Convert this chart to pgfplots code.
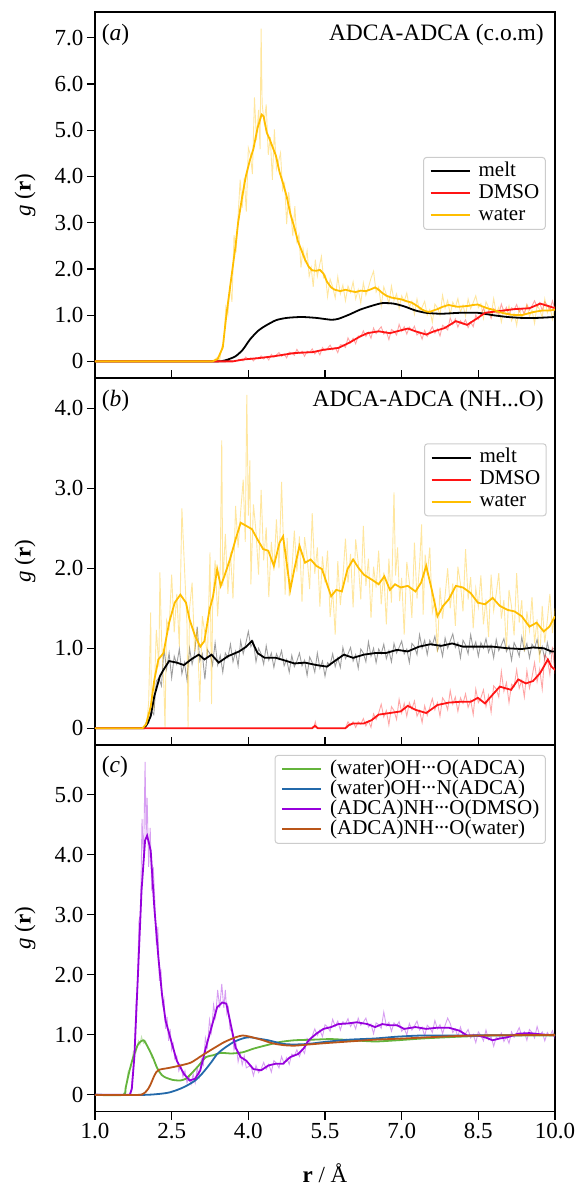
\documentclass[border=0pt]{standalone}
\usepackage{fontspec}
\setmainfont{Liberation Serif}
\usepackage{pgfplots}
\pgfplotsset{compat=1.18}

\definecolor{cwater}{RGB}{255,190,0}
\definecolor{cdmso}{RGB}{255,20,20}
\definecolor{cgreen}{RGB}{100,180,60}
\definecolor{cblue}{RGB}{35,105,170}
\definecolor{cpurple}{RGB}{150,0,220}
\definecolor{cbrown}{RGB}{185,85,25}

\newcommand\tickfont{\fontsize{23}{27}\selectfont}
\newcommand\legfont{\fontsize{21}{22}\selectfont}
% tight hydrogen-bond dots
\newcommand\hb{\kern-0.03em·\kern-0.1em·\kern-0.1em·\kern-0.03em}

\pgfplotsset{
  rdfpanel/.style={
    width=460pt, scale only axis,
    xmin=1, xmax=10,
    xtick={1,2.5,4,5.5,7,8.5,10},
    xtick pos=left, ytick pos=left,
    ytick align=outside,
    major tick length=8pt,
    every tick/.style={black, line width=1.2pt},
    axis line style={line width=1.2pt},
    tick label style={font=\tickfont},
    /pgf/number format/assume math mode=true,
    every axis y label/.style={at={(axis description cs:-0.152,0.5)}, rotate=90, anchor=center, font=\tickfont},
    ylabel={{\itshape g} (\textbf{r})},
    legend cell align=left,
    legend image code/.code={\draw[##1, line width=2pt, opacity=1] (0pt,0pt) -- (39pt,0pt);},
    legend style={draw=black!20, line width=1pt, rounded corners=3pt, fill=white,
      font=\legfont, inner xsep=6pt, inner ysep=4pt, column sep=8pt,
      nodes={inner xsep=0pt, inner ysep=0pt, text height=15pt, text depth=5pt}},
  },
  smoothline/.style={line width=1.8pt},
  rawline/.style={line width=0.9pt, opacity=0.38, forget plot},
}

\begin{document}
\begin{tikzpicture}
\useasboundingbox (0,0) rectangle (576pt,1186pt);

% ---------------- (a) ADCA-ADCA centre of mass ----------------
\begin{axis}[rdfpanel,
  at={(95pt,808pt)}, anchor=south west, height=366pt,
  ymin=-0.36, ymax=7.56,
  xtick align=inside, xticklabels={},
  ytick={0,1,2,3,4,5,6,7},
  yticklabels={0,1.0,2.0,3.0,4.0,5.0,6.0,7.0},
  legend style={at={(0.98,0.604)}, anchor=north east, row sep=2pt},
]
% raw DMSO
\addplot[rawline, cdmso] coordinates {
(3.80,0.04)(3.85,0.03)(3.90,0.01)(3.95,0.095)(4.00,0.04)(4.05,0.075)(4.10,0.01)(4.15,0.08)(4.20,0.064)(4.25,0.12)
(4.30,0.05)(4.35,0.10)(4.40,0.03)(4.45,0.15)(4.50,0.09)(4.55,0.14)(4.60,0.19)(4.65,0.11)(4.70,0.16)(4.75,0.075)
(4.80,0.20)(4.85,0.18)(4.90,0.13)(4.95,0.26)(5.00,0.17)(5.05,0.22)(5.10,0.11)(5.15,0.22)(5.20,0.19)(5.25,0.27)
(5.30,0.16)(5.35,0.23)(5.40,0.14)(5.45,0.30)(5.50,0.23)(5.55,0.28)(5.60,0.35)(5.65,0.25)(5.70,0.30)(5.75,0.19)
(5.80,0.36)(5.85,0.35)(5.90,0.30)(5.95,0.51)(6.00,0.40)(6.05,0.50)(6.10,0.38)(6.15,0.55)(6.20,0.53)(6.25,0.66)
(6.30,0.54)(6.35,0.63)(6.40,0.50)(6.45,0.72)(6.50,0.60)(6.55,0.68)(6.60,0.75)(6.65,0.59)(6.70,0.65)(6.75,0.47)
(6.80,0.69)(6.85,0.65)(6.90,0.57)(6.95,0.80)(7.00,0.65)(7.05,0.75)(7.10,0.59)(7.15,0.74)(7.20,0.67)(7.25,0.76)
(7.30,0.57)(7.35,0.63)(7.40,0.48)(7.45,0.67)(7.50,0.54)(7.55,0.64)(7.60,0.75)(7.65,0.61)(7.70,0.70)(7.75,0.55)
(7.80,0.78)(7.85,0.74)(7.90,0.68)(7.95,0.94)(8.00,0.80)(8.05,0.92)(8.10,0.74)(8.15,0.88)(8.20,0.80)(8.25,0.90)
(8.30,0.73)(8.35,0.85)(8.40,0.75)(8.45,1.00)(8.50,0.91)(8.55,1.02)(8.60,1.14)(8.65,1.01)(8.70,1.09)(8.75,0.93)
(8.80,1.14)(8.85,1.09)(8.90,1.01)(8.95,1.24)(9.00,1.07)(9.05,1.17)(9.10,1.00)(9.15,1.16)(9.20,1.12)(9.25,1.23)
(9.30,1.07)(9.35,1.15)(9.40,1.02)(9.45,1.23)(9.50,1.11)(9.55,1.20)(9.60,1.31)(9.65,1.18)(9.70,1.27)(9.75,1.10)
(9.80,1.29)(9.85,1.21)(9.90,1.11)(9.95,1.31)(10.0,1.12)};
% raw water
\addplot[rawline, cwater] coordinates {
(3.30,0)(3.40,0.09)(3.44,0.03)(3.48,0.31)(3.52,0.42)(3.56,1.18)(3.60,1.00)(3.64,1.64)(3.68,1.29)(3.72,2.73)
(3.76,2.36)(3.80,3.16)(3.84,3.93)(3.88,3.32)(3.92,3.97)(3.96,3.24)(4.00,4.62)(4.04,4.47)(4.08,4.05)(4.12,5.71)
(4.16,4.78)(4.20,5.44)(4.23,4.59)(4.25,7.20)(4.27,5.57)(4.31,5.16)(4.35,5.56)(4.39,4.47)(4.43,4.85)(4.47,3.93)
(4.51,5.02)(4.55,4.16)(4.59,4.32)(4.63,4.51)(4.67,3.71)(4.71,3.85)(4.75,2.97)(4.79,3.66)(4.83,3.21)(4.87,2.71)
(4.91,3.36)(4.95,2.59)(4.99,2.74)(5.03,2.03)(5.07,2.44)(5.11,2.16)(5.15,2.39)(5.19,1.84)(5.23,2.03)(5.27,1.61)
(5.31,2.20)(5.35,1.84)(5.39,2.06)(5.43,2.27)(5.47,1.81)(5.51,1.86)(5.55,1.40)(5.60,1.78)(5.65,1.61)(5.70,1.37)
(5.75,1.83)(5.80,1.46)(5.85,1.65)(5.90,1.31)(5.95,1.63)(6.00,1.49)(6.05,1.72)(6.10,1.35)(6.15,1.55)(6.20,1.26)
(6.25,1.70)(6.30,1.43)(6.35,1.60)(6.40,1.80)(6.45,1.95)(6.50,1.50)(6.55,1.61)(6.60,1.20)(6.65,1.61)(6.70,1.45)
(6.75,1.25)(6.80,1.63)(6.85,1.32)(6.90,1.46)(6.95,1.15)(7.00,1.42)(7.05,1.30)(7.10,1.48)(7.15,1.17)(7.20,1.30)
(7.25,1.02)(7.30,1.35)(7.35,1.09)(7.40,1.17)(7.45,1.30)(7.50,1.00)(7.55,1.12)(7.60,0.84)(7.65,1.24)(7.70,1.16)
(7.75,1.00)(7.80,1.43)(7.85,1.15)(7.90,1.32)(7.95,1.01)(8.00,1.28)(8.05,1.17)(8.10,1.36)(8.15,1.06)(8.20,1.22)
(8.25,0.98)(8.30,1.35)(8.35,1.14)(8.40,1.27)(8.45,1.42)(8.50,1.16)(8.55,1.25)(8.60,0.93)(8.65,1.29)(8.70,1.17)
(8.75,0.98)(8.80,1.36)(8.85,1.04)(8.90,1.17)(8.95,0.85)(9.00,1.12)(9.05,1.00)(9.10,1.20)(9.15,0.88)(9.20,1.03)
(9.25,0.78)(9.30,1.15)(9.35,0.93)(9.40,1.06)(9.45,1.23)(9.50,0.97)(9.55,1.11)(9.60,0.82)(9.65,1.21)(9.70,1.12)
(9.75,0.95)(9.80,1.35)(9.85,1.05)(9.90,1.20)(9.95,0.91)(10.0,1.20)};
% melt
\addplot[smoothline, black, smooth, tension=0.4] coordinates {
(1,0)(3.4,0)(3.5,0.01)(3.6,0.04)(3.75,0.11)(3.89,0.25)(4.03,0.47)(4.18,0.65)(4.32,0.76)(4.54,0.89)
(4.75,0.94)(5.04,0.96)(5.33,0.94)(5.62,0.90)(5.76,0.92)(5.97,1.01)(6.19,1.12)(6.41,1.20)(6.62,1.26)(6.84,1.25)
(7.05,1.19)(7.27,1.10)(7.48,1.05)(7.77,1.03)(8.13,1.05)(8.49,1.05)(8.78,1.00)(9.07,0.96)(9.35,0.94)(9.64,0.94)(10,0.96)};
\addlegendentry{melt}
% DMSO
\addplot[smoothline, cdmso] coordinates {
(1,0)(3.7,0)(3.8,0.02)(3.9,0.04)(4.2,0.07)(4.5,0.11)(4.9,0.18)(5.26,0.20)(5.47,0.25)(5.76,0.29)
(5.97,0.40)(6.19,0.54)(6.33,0.61)(6.55,0.65)(6.77,0.61)(6.98,0.67)(7.12,0.71)(7.27,0.65)(7.48,0.58)(7.63,0.65)
(7.84,0.72)(8.06,0.87)(8.28,0.79)(8.49,0.94)(8.63,1.05)(8.85,1.08)(9.21,1.13)(9.5,1.15)(9.71,1.25)(9.86,1.20)(10,1.15)};
\addlegendentry{DMSO}
% water
\addplot[smoothline, cwater] coordinates {
(1,0)(3.3,0)(3.4,0.05)(3.5,0.3)(3.57,1.0)(3.63,1.5)(3.69,2.0)(3.75,2.5)(3.80,3.0)(3.87,3.5)
(3.95,4.0)(4.03,4.35)(4.1,4.6)(4.18,5.05)(4.26,5.34)(4.3,5.3)(4.36,4.95)(4.42,4.8)(4.47,4.65)(4.54,4.45)
(4.61,4.1)(4.68,3.85)(4.75,3.57)(4.82,3.2)(4.9,2.9)(4.97,2.6)(5.04,2.4)(5.11,2.2)(5.18,2.05)(5.25,1.97)
(5.33,1.96)(5.4,1.98)(5.47,1.9)(5.54,1.72)(5.62,1.6)(5.69,1.55)(5.8,1.52)(5.9,1.55)(6.0,1.52)(6.1,1.5)
(6.2,1.53)(6.3,1.52)(6.4,1.56)(6.48,1.6)(6.55,1.55)(6.62,1.48)(6.7,1.42)(6.8,1.38)(6.9,1.36)(7.0,1.34)
(7.1,1.3)(7.2,1.27)(7.3,1.2)(7.4,1.12)(7.48,1.08)(7.55,1.07)(7.62,1.1)(7.7,1.13)(7.8,1.18)(7.92,1.22)
(8.0,1.2)(8.1,1.18)(8.2,1.19)(8.3,1.2)(8.4,1.22)(8.49,1.23)(8.6,1.18)(8.7,1.14)(8.78,1.12)(8.9,1.07)
(9.0,1.04)(9.14,1.01)(9.25,1.0)(9.35,1.0)(9.45,1.03)(9.55,1.06)(9.64,1.08)(9.75,1.1)(9.9,1.1)(10,1.12)};
\addlegendentry{water}
\node[anchor=west, inner sep=0pt, font=\fontsize{23.5}{27}\selectfont] at (axis description cs:0.0146,0.937) {({\itshape a})};
\node[anchor=east, inner sep=0pt, font=\fontsize{23.5}{27}\selectfont] at (axis description cs:0.976,0.937) {ADCA-ADCA (c.o.m)};
\end{axis}

% ---------------- (b) ADCA-ADCA NH...O ----------------
\begin{axis}[rdfpanel,
  at={(95pt,441pt)}, anchor=south west, height=367pt,
  ymin=-0.21, ymax=4.38,
  xtick align=inside, xticklabels={},
  ytick={0,1,2,3,4},
  yticklabels={0,1.0,2.0,3.0,4.0},
  legend style={at={(0.982,0.822)}, anchor=north east, row sep=2pt},
]
% raw melt
\addplot[rawline, black] coordinates {
(1.96,0)(2.00,0.07)(2.05,0.06)(2.10,0.22)(2.15,0.17)(2.20,0.59)(2.25,0.63)(2.30,0.53)(2.35,0.99)(2.40,0.74)
(2.45,0.94)(2.50,0.63)(2.55,0.90)(2.60,0.80)(2.65,0.99)(2.70,0.68)(2.75,0.82)(2.80,0.60)(2.85,1.00)(2.90,0.80)
(2.95,0.94)(3.00,1.27)(3.05,0.84)(3.10,0.93)(3.15,0.61)(3.20,0.98)(3.25,0.93)(3.30,0.79)(3.35,1.07)(3.40,0.79)
(3.45,0.91)(3.50,0.70)(3.55,0.94)(3.60,0.88)(3.65,1.05)(3.70,0.83)(3.75,0.96)(3.80,0.78)(3.85,1.09)(3.90,0.93)
(3.95,1.06)(4.00,1.21)(4.05,1.02)(4.10,1.08)(4.15,0.83)(4.20,1.00)(4.25,0.93)(4.30,0.80)(4.35,1.03)(4.40,0.85)
(4.45,0.94)(4.50,0.76)(4.55,0.93)(4.60,0.86)(4.65,0.97)(4.70,0.78)(4.75,0.86)(4.80,0.70)(4.85,0.91)(4.90,0.77)
(4.95,0.84)(5.00,0.94)(5.05,0.78)(5.10,0.85)(5.15,0.66)(5.20,0.89)(5.25,0.82)(5.30,0.70)(5.35,0.94)(5.40,0.75)
(5.45,0.84)(5.50,0.65)(5.55,0.82)(5.60,0.79)(5.65,0.93)(5.70,0.77)(5.75,0.88)(5.80,0.76)(5.85,1.01)(5.90,0.87)
(5.95,0.93)(6.00,1.01)(6.05,0.84)(6.10,0.92)(6.15,0.75)(6.20,0.99)(6.25,0.94)(6.30,0.83)(6.35,1.08)(6.40,0.90)
(6.45,1.00)(6.50,0.82)(6.55,0.99)(6.60,0.93)(6.65,1.05)(6.70,0.87)(6.75,0.97)(6.80,0.83)(6.85,1.06)(6.90,0.94)
(6.95,1.01)(7.00,1.09)(7.05,0.93)(7.10,0.99)(7.15,0.82)(7.20,1.06)(7.25,1.02)(7.30,0.92)(7.35,1.17)(7.40,1.00)
(7.45,1.10)(7.50,0.92)(7.55,1.10)(7.60,1.04)(7.65,1.15)(7.70,0.97)(7.75,1.05)(7.80,0.90)(7.85,1.13)(7.90,1.00)
(7.95,1.09)(8.00,1.18)(8.05,1.01)(8.10,1.07)(8.15,0.88)(8.20,1.10)(8.25,1.04)(8.30,0.93)(8.35,1.17)(8.40,0.99)
(8.45,1.08)(8.50,0.90)(8.55,1.07)(8.60,1.00)(8.65,1.12)(8.70,0.95)(8.75,1.04)(8.80,0.88)(8.85,1.11)(8.90,0.97)
(8.95,1.04)(9.00,1.12)(9.05,0.96)(9.10,1.03)(9.15,0.85)(9.20,1.07)(9.25,1.00)(9.30,0.90)(9.35,1.14)(9.40,0.97)
(9.45,1.06)(9.50,0.88)(9.55,1.05)(9.60,1.00)(9.65,1.11)(9.70,0.93)(9.75,1.02)(9.80,0.86)(9.85,1.07)(9.90,0.93)
(9.95,0.99)(10.0,1.00)};
% raw DMSO
\addplot[rawline, cdmso] coordinates {
(5.28,0)(5.31,0.08)(5.34,0)(5.90,0)(5.95,0.08)(6.00,0.035)(6.05,0.08)(6.10,0.01)(6.15,0.08)(6.20,0.05)
(6.25,0.12)(6.30,0.03)(6.35,0.09)(6.40,0.01)(6.45,0.18)(6.50,0.11)(6.55,0.19)(6.60,0.30)(6.65,0.14)(6.70,0.22)
(6.75,0.04)(6.80,0.27)(6.85,0.22)(6.90,0.11)(6.95,0.36)(7.00,0.19)(7.05,0.31)(7.10,0.15)(7.15,0.32)(7.20,0.24)
(7.25,0.34)(7.30,0.15)(7.35,0.22)(7.40,0.07)(7.45,0.28)(7.50,0.16)(7.55,0.26)(7.60,0.37)(7.65,0.23)(7.70,0.32)
(7.75,0.15)(7.80,0.38)(7.85,0.33)(7.90,0.23)(7.95,0.47)(8.00,0.30)(8.05,0.39)(8.10,0.21)(8.15,0.38)(8.20,0.31)
(8.25,0.43)(8.30,0.26)(8.35,0.35)(8.40,0.17)(8.45,0.49)(8.50,0.32)(8.55,0.38)(8.60,0.48)(8.65,0.27)(8.70,0.41)
(8.75,0.20)(8.80,0.53)(8.85,0.49)(8.90,0.39)(8.95,0.71)(9.00,0.46)(9.05,0.57)(9.10,0.32)(9.15,0.55)(9.20,0.52)
(9.25,0.73)(9.30,0.50)(9.35,0.60)(9.40,0.39)(9.45,0.72)(9.50,0.50)(9.55,0.64)(9.60,0.82)(9.65,0.58)(9.70,0.74)
(9.75,0.49)(9.80,0.92)(9.85,0.87)(9.90,0.67)(9.95,1.02)(10.0,0.68)};
% raw water
\addplot[rawline, cwater] coordinates {
(1.93,0)(1.95,0.02)(2.00,0.00)(2.05,0.32)(2.09,1.45)(2.10,0.36)(2.15,0.25)(2.20,1.23)(2.25,0.77)(2.27,1.95)
(2.30,1.15)(2.35,0.49)(2.37,0.00)(2.40,1.35)(2.45,1.25)(2.50,1.92)(2.55,1.20)(2.60,1.68)(2.65,1.02)(2.70,2.75)
(2.75,2.02)(2.80,1.30)(2.82,0.00)(2.85,1.50)(2.90,1.82)(2.95,0.96)(3.00,1.24)(3.05,0.33)(3.10,1.40)(3.15,1.19)
(3.20,0.88)(3.25,2.20)(3.28,0.30)(3.30,1.49)(3.35,2.10)(3.40,1.40)(3.45,2.02)(3.48,3.60)(3.50,1.78)(3.55,2.43)
(3.60,1.68)(3.65,2.20)(3.70,1.62)(3.75,2.78)(3.80,2.26)(3.85,2.71)(3.90,3.11)(3.94,2.33)(3.97,4.17)(4.00,2.66)
(4.03,3.35)(4.05,1.80)(4.10,2.80)(4.15,2.46)(4.20,1.92)(4.25,2.98)(4.30,2.10)(4.35,2.51)(4.40,1.64)(4.45,2.33)
(4.50,1.97)(4.55,2.61)(4.60,2.00)(4.65,3.08)(4.68,2.46)(4.72,1.67)(4.76,2.38)(4.80,1.65)(4.85,1.95)(4.90,2.47)
(4.95,1.96)(5.00,2.40)(5.05,1.58)(5.10,2.39)(5.15,2.14)(5.20,1.74)(5.25,2.69)(5.30,1.93)(5.35,2.26)(5.40,1.52)
(5.45,2.15)(5.50,1.82)(5.55,2.22)(5.60,1.39)(5.65,1.73)(5.70,1.17)(5.75,2.09)(5.80,1.54)(5.85,1.88)(5.90,2.37)
(5.95,1.82)(6.00,2.18)(6.05,1.51)(6.10,2.36)(6.15,2.07)(6.20,1.61)(6.25,2.53)(6.30,1.78)(6.35,2.12)(6.40,1.38)
(6.45,2.02)(6.50,1.76)(6.55,2.22)(6.60,1.55)(6.65,1.95)(6.70,1.30)(6.75,2.12)(6.80,1.57)(6.85,2.95)(6.88,1.91)
(6.92,2.26)(6.96,1.59)(7.00,1.88)(7.05,1.17)(7.10,2.08)(7.15,1.83)(7.20,1.38)(7.25,2.32)(7.30,1.62)(7.35,2.03)
(7.39,2.55)(7.42,1.42)(7.46,2.17)(7.50,1.91)(7.55,2.26)(7.60,1.45)(7.65,1.60)(7.70,0.95)(7.75,1.76)(7.80,1.37)
(7.85,1.66)(7.90,2.00)(7.95,1.50)(8.00,1.81)(8.05,1.28)(8.10,2.02)(8.15,1.81)(8.20,1.46)(8.25,2.24)(8.30,1.61)
(8.35,1.89)(8.40,1.25)(8.45,1.75)(8.50,1.52)(8.55,1.91)(8.60,1.30)(8.65,1.61)(8.70,1.14)(8.75,1.92)(8.80,1.47)
(8.85,1.68)(8.90,1.94)(8.95,1.37)(9.00,1.60)(9.05,0.98)(9.10,1.73)(9.15,1.52)(9.20,1.16)(9.25,1.94)(9.30,1.32)
(9.35,1.60)(9.40,0.96)(9.45,1.46)(9.50,1.22)(9.55,1.64)(9.60,1.06)(9.65,1.36)(9.70,0.82)(9.75,1.53)(9.80,1.07)
(9.85,1.35)(9.90,1.68)(9.95,1.19)(10.0,1.50)};
% melt
\addplot[smoothline, black] coordinates {
(1,0)(1.96,0)(2.02,0.05)(2.09,0.15)(2.16,0.4)(2.27,0.65)(2.34,0.73)(2.45,0.84)(2.6,0.82)(2.74,0.79)
(2.88,0.86)(3.03,0.92)(3.14,0.86)(3.28,0.92)(3.42,0.82)(3.6,0.9)(3.82,0.96)(3.96,1.02)(4.07,1.09)(4.18,0.94)
(4.32,0.88)(4.54,0.88)(4.75,0.84)(4.9,0.81)(5.11,0.82)(5.33,0.79)(5.54,0.77)(5.69,0.84)(5.87,0.92)(6.05,0.88)
(6.26,0.92)(6.48,0.94)(6.69,0.94)(6.91,0.98)(7.12,0.96)(7.34,1.02)(7.56,1.05)(7.77,1.03)(7.99,1.06)(8.2,1.02)
(8.49,1.02)(8.78,1.02)(9.07,1.0)(9.35,0.99)(9.57,1.01)(9.78,1.0)(9.93,0.96)(10,0.96)};
\addlegendentry{melt}
% DMSO
\addplot[smoothline, cdmso] coordinates {
(1,0)(5.25,0)(5.3,0.03)(5.36,0)(5.9,0)(5.97,0.04)(6.05,0.06)(6.26,0.06)(6.41,0.1)(6.55,0.17)
(6.77,0.19)(6.98,0.21)(7.12,0.28)(7.27,0.23)(7.48,0.19)(7.7,0.29)(7.92,0.32)(8.13,0.33)(8.35,0.33)(8.49,0.38)
(8.63,0.31)(8.78,0.42)(8.92,0.52)(9.14,0.48)(9.28,0.61)(9.43,0.56)(9.57,0.59)(9.71,0.69)(9.86,0.86)(9.93,0.77)(10,0.73)};
\addlegendentry{DMSO}
% water
\addplot[smoothline, cwater] coordinates {
(1,0)(1.93,0)(2.0,0.05)(2.09,0.27)(2.16,0.6)(2.24,0.86)(2.34,0.94)(2.45,1.32)(2.56,1.57)(2.67,1.67)
(2.78,1.57)(2.85,1.36)(2.96,1.15)(3.06,1.02)(3.14,1.09)(3.24,1.48)(3.31,1.65)(3.39,1.99)(3.46,1.78)(3.53,1.9)
(3.64,2.11)(3.75,2.36)(3.85,2.57)(3.96,2.53)(4.07,2.49)(4.18,2.36)(4.29,2.24)(4.39,2.22)(4.5,2.03)(4.61,2.32)
(4.68,2.4)(4.75,2.07)(4.82,1.73)(4.9,1.99)(5.0,2.28)(5.11,2.07)(5.22,2.11)(5.33,2.03)(5.44,1.99)(5.51,1.86)
(5.62,1.65)(5.72,1.73)(5.83,1.71)(5.94,1.99)(6.05,2.11)(6.15,2.01)(6.26,1.92)(6.41,1.86)(6.55,1.8)(6.66,1.9)
(6.77,1.73)(6.87,1.8)(6.98,1.76)(7.12,1.78)(7.27,1.71)(7.38,1.82)(7.48,2.03)(7.59,1.73)(7.7,1.4)(7.81,1.53)
(7.92,1.61)(8.06,1.78)(8.2,1.76)(8.35,1.69)(8.49,1.57)(8.63,1.55)(8.78,1.63)(8.92,1.53)(9.07,1.48)(9.21,1.46)
(9.35,1.4)(9.5,1.27)(9.64,1.32)(9.78,1.21)(9.89,1.27)(10,1.4)};
\addlegendentry{water}
\node[anchor=west, inner sep=0pt, font=\fontsize{23.5}{27}\selectfont] at (axis description cs:0.0146,0.937) {({\itshape b})};
\node[anchor=east, inner sep=0pt, font=\fontsize{23.5}{27}\selectfont] at (axis description cs:0.976,0.937) {ADCA-ADCA (NH...O)};
\end{axis}

% ---------------- (c) hydrogen-bond pairs ----------------
\begin{axis}[rdfpanel,
  at={(95pt,74.3pt)}, anchor=south west, height=366.7pt,
  ymin=-0.28, ymax=5.83,
  xtick align=outside,
  xticklabels={1.0,2.5,4.0,5.5,7.0,8.5,10.0},
  ytick={0,1,2,3,4,5},
  yticklabels={0,1.0,2.0,3.0,4.0,5.0},
  every axis x label/.style={at={(axis description cs:0.5,-0.194)}, anchor=base, font=\tickfont},
  xlabel={\textbf{r} / Å},
  legend style={at={(0.98,0.973)}, anchor=north east, row sep=0pt},
]
% raw (water)OH...O(ADCA)
\addplot[rawline, cgreen] coordinates {
(1.55,0)(1.60,0.10)(1.65,0.40)(1.70,0.45)(1.75,0.72)(1.80,0.70)(1.85,0.90)(1.88,0.84)(1.91,0.97)(1.95,0.86)
(1.99,0.90)(2.03,0.78)(2.07,0.76)(2.11,0.62)(2.15,0.60)(2.20,0.46)(2.25,0.42)(2.30,0.32)};
% raw (ADCA)NH...O(DMSO)
\addplot[rawline, cpurple] coordinates {
(1.70,0.00)(1.74,0.40)(1.77,0.70)(1.80,1.50)(1.83,1.80)(1.86,2.90)(1.89,3.00)(1.92,4.60)(1.95,3.90)(1.98,5.55)
(2.00,4.30)(2.02,4.95)(2.05,3.80)(2.08,4.45)(2.11,3.40)(2.14,3.80)(2.17,3.25)(2.20,2.50)(2.23,2.80)(2.26,1.90)
(2.29,2.10)(2.32,1.50)(2.35,1.60)(2.38,1.10)(2.41,1.30)(2.44,0.90)(2.47,1.10)(2.50,0.75)(2.53,0.85)(2.56,0.60)
(2.60,0.65)(2.64,0.40)(2.68,0.50)(2.72,0.30)(2.76,0.40)(2.80,0.20)(2.84,0.30)(2.88,0.18)(2.92,0.35)(2.96,0.20)
(3.00,0.45)(3.04,0.30)(3.08,0.60)(3.12,0.50)(3.16,0.95)(3.20,0.80)(3.24,1.25)(3.28,1.05)(3.32,1.50)(3.36,1.30)
(3.40,1.75)(3.44,1.45)(3.48,1.85)(3.52,1.45)(3.55,1.75)(3.58,1.35)(3.61,1.45)(3.64,1.10)(3.68,1.05)(3.72,0.75)
(3.76,0.85)(3.80,0.55)(3.84,0.70)(3.88,0.50)(3.92,0.65)(3.96,0.45)(4.00,0.47)(4.05,0.49)(4.10,0.32)(4.15,0.49)
(4.20,0.37)(4.25,0.43)(4.30,0.54)(4.35,0.43)(4.40,0.51)(4.45,0.38)(4.50,0.57)(4.55,0.53)(4.60,0.45)(4.65,0.64)
(4.70,0.52)(4.75,0.62)(4.80,0.51)(4.85,0.68)(4.90,0.65)(4.95,0.75)(5.00,0.64)(5.05,0.76)(5.10,0.69)(5.15,0.94)
(5.20,0.88)(5.25,0.98)(5.30,1.10)(5.35,0.99)(5.40,1.08)(5.45,0.97)(5.50,1.17)(5.55,1.13)(5.60,1.06)(5.65,1.26)
(5.70,1.14)(5.75,1.23)(5.80,1.08)(5.85,1.22)(5.90,1.18)(5.95,1.27)(6.00,1.14)(6.05,1.21)(6.10,1.10)(6.15,1.28)
(6.20,1.16)(6.25,1.21)(6.30,1.28)(6.35,1.13)(6.40,1.18)(6.45,1.02)(6.50,1.20)(6.55,1.17)(6.60,1.11)(6.65,1.38)
(6.70,1.15)(6.75,1.21)(6.80,1.06)(6.85,1.20)(6.90,1.15)(6.95,1.22)(7.00,1.06)(7.05,1.11)(7.10,1.00)(7.15,1.19)
(7.20,1.08)(7.25,1.15)(7.30,1.23)(7.35,1.08)(7.40,1.13)(7.45,0.98)(7.50,1.16)(7.55,1.12)(7.60,1.04)(7.65,1.24)
(7.70,1.10)(7.75,1.17)(7.80,1.02)(7.85,1.16)(7.90,1.28)(7.95,1.19)(8.00,1.04)(8.05,1.10)(8.10,0.97)(8.15,1.13)
(8.20,0.99)(8.25,1.02)(8.30,1.09)(8.35,0.95)(8.40,1.01)(8.45,0.87)(8.50,1.05)(8.55,0.99)(8.60,0.90)(8.65,1.08)
(8.70,0.92)(8.75,0.97)(8.80,0.81)(8.85,0.96)(8.90,0.93)(8.95,1.03)(9.00,0.89)(9.05,0.97)(9.10,0.86)(9.15,1.05)
(9.20,0.96)(9.25,1.03)(9.30,1.12)(9.35,0.98)(9.40,1.05)(9.45,0.91)(9.50,1.09)(9.55,1.04)(9.60,0.95)(9.65,1.14)
(9.70,0.99)(9.75,1.05)(9.80,0.90)(9.85,1.04)(9.90,0.98)(9.95,1.07)(10.0,0.93)};
% (water)OH...O(ADCA)
\addplot[smoothline, cgreen, smooth, tension=0.4] coordinates {
(1,0)(1.55,0)(1.6,0.12)(1.66,0.35)(1.72,0.55)(1.77,0.68)(1.83,0.82)(1.88,0.88)(1.95,0.91)(2.02,0.82)
(2.08,0.72)(2.13,0.63)(2.2,0.48)(2.24,0.41)(2.31,0.33)(2.38,0.29)(2.52,0.25)(2.67,0.24)(2.78,0.27)(2.88,0.35)
(3.03,0.49)(3.17,0.63)(3.31,0.66)(3.46,0.7)(3.67,0.69)(3.89,0.71)(4.1,0.77)(4.32,0.82)(4.61,0.88)(4.9,0.91)
(5.26,0.92)(5.62,0.93)(6.05,0.91)(6.48,0.89)(6.91,0.91)(7.41,0.94)(8.13,0.97)(8.85,0.99)(10,0.99)};
\addlegendentry{(water)OH\hb O(ADCA)}
% (water)OH...N(ADCA)
\addplot[smoothline, cblue, smooth, tension=0.4] coordinates {
(1,0)(1.9,0)(2.1,0.005)(2.3,0.02)(2.45,0.04)(2.6,0.08)(2.74,0.13)(2.85,0.18)(2.96,0.24)(3.06,0.32)
(3.17,0.43)(3.28,0.55)(3.39,0.68)(3.5,0.76)(3.6,0.82)(3.71,0.88)(3.82,0.92)(3.93,0.95)(4.03,0.96)(4.18,0.94)
(4.39,0.91)(4.68,0.85)(4.9,0.84)(5.18,0.85)(5.47,0.88)(5.97,0.92)(6.48,0.94)(6.91,0.97)(7.41,0.99)(8.13,0.99)(10,1.0)};
\addlegendentry{(water)OH\hb N(ADCA)}
% (ADCA)NH...O(DMSO)
\addplot[smoothline, cpurple] coordinates {
(1,0)(1.68,0)(1.72,0.1)(1.77,0.63)(1.84,2.0)(1.91,3.4)(1.98,4.24)(2.02,4.32)(2.09,4.07)(2.16,3.13)
(2.24,2.29)(2.31,1.68)(2.38,1.24)(2.49,0.9)(2.6,0.57)(2.74,0.35)(2.85,0.24)(2.96,0.27)(3.06,0.41)(3.17,0.79)
(3.28,1.13)(3.39,1.46)(3.49,1.54)(3.57,1.52)(3.64,1.24)(3.75,0.79)(3.85,0.63)(3.96,0.57)(4.1,0.43)(4.25,0.41)
(4.39,0.49)(4.54,0.52)(4.68,0.52)(4.82,0.63)(4.97,0.68)(5.08,0.77)(5.18,0.91)(5.33,1.02)(5.47,1.1)(5.62,1.13)
(5.76,1.18)(5.94,1.19)(6.12,1.21)(6.33,1.18)(6.48,1.13)(6.62,1.18)(6.77,1.16)(6.91,1.16)(7.05,1.1)(7.27,1.13)
(7.48,1.1)(7.7,1.12)(7.92,1.12)(8.13,1.07)(8.28,0.99)(8.49,0.99)(8.63,0.96)(8.78,0.91)(8.92,0.94)(9.07,0.96)
(9.28,1.02)(9.5,1.03)(9.71,1.01)(10,0.99)};
\addlegendentry{(ADCA)NH\hb O(DMSO)}
% (ADCA)NH...O(water)
\addplot[smoothline, cbrown, smooth, tension=0.4] coordinates {
(1,0)(1.85,0)(1.92,0.01)(1.98,0.04)(2.04,0.1)(2.09,0.18)(2.15,0.3)(2.2,0.38)(2.26,0.42)(2.31,0.43)
(2.45,0.45)(2.67,0.49)(2.88,0.54)(3.1,0.66)(3.31,0.77)(3.53,0.88)(3.75,0.96)(3.89,0.99)(4.03,0.97)(4.25,0.92)
(4.47,0.86)(4.68,0.83)(4.9,0.82)(5.18,0.84)(5.47,0.86)(5.97,0.89)(6.48,0.92)(7.05,0.94)(7.77,0.97)(8.49,0.99)(10,1.0)};
\addlegendentry{(ADCA)NH\hb O(water)}
\node[anchor=west, inner sep=0pt, font=\fontsize{23.5}{27}\selectfont] at (axis description cs:0.0146,0.94) {({\itshape c})};
\end{axis}
\end{tikzpicture}
\end{document}
